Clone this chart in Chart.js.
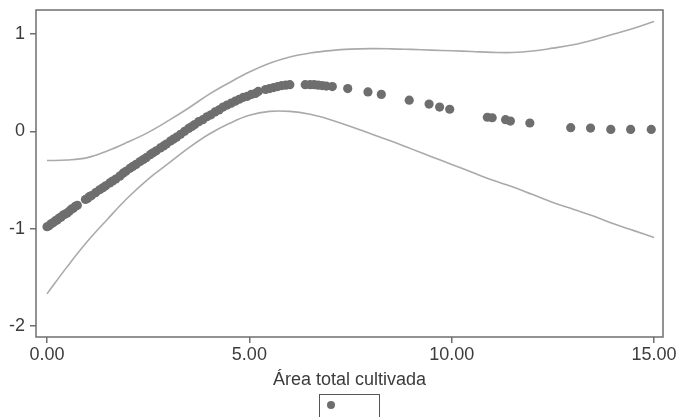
<!DOCTYPE html>
<html>
<head>
<meta charset="utf-8">
<script src="https://cdn.jsdelivr.net/npm/chart.js@4.4.1/dist/chart.umd.min.js"></script>
<style>
  html, body { margin: 0; padding: 0; background: #ffffff; }
  #wrap { width: 676px; height: 417px; position: relative; }
</style>
</head>
<body>
<div id="wrap"><canvas id="c" width="676" height="417"></canvas></div>
<script>
// Scatter points (predicted values)
const pointsX = [0.00,0.05,0.10,0.15,0.20,0.25,0.30,0.35,0.40,0.45,0.50,0.55,0.60,0.65,0.70,0.75,
  0.95,1.00,1.05,1.10,1.20,1.30,1.38,1.45,1.55,1.62,1.70,1.80,1.88,1.95,2.05,2.12,2.20,2.30,2.38,2.45,
  2.55,2.62,2.70,2.80,2.88,2.95,3.05,3.12,3.20,3.30,3.40,3.50,3.58,3.65,3.75,3.85,3.95,4.05,4.15,4.25,
  4.35,4.45,4.55,4.65,4.75,4.85,4.95,5.05,5.15,5.22,5.40,5.50,5.60,5.70,5.80,5.90,6.00,
  6.38,6.50,6.60,6.70,6.80,6.90,7.05,
  7.43,7.93,8.26,8.95,9.44,9.70,9.95,10.88,11.00,11.33,11.45,11.93,12.94,13.43,13.93,14.42,14.93];
const pointsY = [-0.98,-0.97,-0.95,-0.94,-0.92,-0.91,-0.89,-0.88,-0.86,-0.85,-0.84,-0.82,-0.80,-0.79,-0.77,-0.76,
  -0.70,-0.69,-0.67,-0.66,-0.63,-0.60,-0.58,-0.56,-0.53,-0.51,-0.49,-0.46,-0.43,-0.41,-0.38,-0.36,-0.34,-0.31,-0.29,-0.27,
  -0.24,-0.22,-0.20,-0.17,-0.15,-0.13,-0.10,-0.08,-0.06,-0.03,0.00,0.03,0.05,0.07,0.10,0.12,0.15,0.17,0.20,0.22,
  0.25,0.27,0.29,0.31,0.33,0.35,0.36,0.38,0.39,0.41,0.43,0.44,0.45,0.46,0.47,0.475,0.48,
  0.48,0.48,0.48,0.475,0.47,0.465,0.46,
  0.44,0.405,0.38,0.32,0.28,0.25,0.227,0.145,0.14,0.12,0.106,0.086,0.038,0.034,0.02,0.02,0.02];

// Confidence band
const bandX = [0,0.5,1,1.5,2,2.5,3,3.5,4,4.5,5,5.5,6,6.5,7,7.5,8,8.5,9,9.5,10,10.5,11,11.5,12,12.5,13,13.5,14,14.5,15];
const upperY = [-0.30,-0.295,-0.27,-0.20,-0.11,-0.01,0.11,0.24,0.38,0.50,0.61,0.70,0.765,0.805,0.83,0.845,0.85,0.848,0.842,0.835,0.828,0.82,0.812,0.81,0.825,0.855,0.89,0.94,1.00,1.06,1.13];
const lowerY = [-1.67,-1.39,-1.13,-0.90,-0.68,-0.49,-0.33,-0.17,-0.03,0.08,0.165,0.205,0.205,0.175,0.12,0.05,-0.025,-0.10,-0.18,-0.26,-0.34,-0.42,-0.50,-0.57,-0.65,-0.73,-0.80,-0.87,-0.95,-1.02,-1.09];

const xTicks = [0, 5, 10, 15];
const yTicks = [-2, -1, 0, 1];
const xTitle = 'Área total cultivada';

const DOT = '#6e6e6e';
const BAND = '#aaaaaa';
const FRAME = '#6f6f6f';
const TXT = '#3c3c3c';
const FONT = { family: '"Liberation Sans", Arial, sans-serif', size: 18 };

const toXY = (xs, ys) => xs.map((x, i) => ({ x: x, y: ys[i] }));

const framePlugin = {
  id: 'frameAndLegend',
  afterDraw(chart) {
    const { ctx, chartArea: a } = chart;
    ctx.save();
    ctx.strokeStyle = FRAME;
    ctx.lineWidth = 1.5;
    ctx.strokeRect(a.left, a.top, a.right - a.left, a.bottom - a.top);
    // legend box
    ctx.strokeStyle = '#555555';
    ctx.lineWidth = 1;
    ctx.strokeRect(319.5, 394.5, 60, 30);
    ctx.fillStyle = DOT;
    ctx.beginPath();
    ctx.arc(331, 405, 4, 0, Math.PI * 2);
    ctx.fill();
    ctx.restore();
  }
};

new Chart(document.getElementById('c'), {
  type: 'scatter',
  data: {
    datasets: [
      {
        label: 'lower',
        data: toXY(bandX, lowerY),
        showLine: true,
        borderColor: BAND,
        borderWidth: 1.6,
        pointRadius: 0,
        tension: 0.4,
        fill: false
      },
      {
        label: 'upper',
        data: toXY(bandX, upperY),
        showLine: true,
        borderColor: BAND,
        borderWidth: 1.6,
        pointRadius: 0,
        tension: 0.4,
        fill: false
      },
      {
        label: 'points',
        data: toXY(pointsX, pointsY),
        showLine: false,
        backgroundColor: DOT,
        borderColor: DOT,
        borderWidth: 0,
        pointRadius: 4.6,
        pointHoverRadius: 4.6
      }
    ]
  },
  options: {
    responsive: false,
    animation: false,
    devicePixelRatio: 1,
    layout: { padding: { top: 10, right: 13, left: 0, bottom: 0 } },
    plugins: { legend: { display: false }, tooltip: { enabled: false } },
    scales: {
      x: {
        type: 'linear',
        min: -0.272,
        max: 15.22,
        afterBuildTicks: s => { s.ticks = xTicks.map(v => ({ value: v })); },
        afterFit: s => { s.height = 80; s.paddingLeft = 0; s.paddingRight = 0; },
        ticks: {
          color: TXT, font: FONT, padding: 1, maxRotation: 0, autoSkip: false,
          callback: v => Number(v).toFixed(2)
        },
        grid: { display: true, drawOnChartArea: false, drawTicks: true, tickLength: 6, color: FRAME, lineWidth: 1.5 },
        border: { display: false },
        title: { display: true, text: xTitle, color: TXT, font: FONT, padding: { top: 0, bottom: 26 } }
      },
      y: {
        type: 'linear',
        min: -2.113,
        max: 1.247,
        afterBuildTicks: s => { s.ticks = yTicks.map(v => ({ value: v })); },
        afterFit: s => { s.width = 36; s.paddingTop = 0; s.paddingBottom = 0; },
        ticks: { color: TXT, font: FONT, padding: 5, callback: v => String(v) },
        grid: { display: true, drawOnChartArea: false, drawTicks: true, tickLength: 6, color: FRAME, lineWidth: 1.5 },
        border: { display: false }
      }
    }
  },
  plugins: [framePlugin]
});
</script>
</body>
</html>
